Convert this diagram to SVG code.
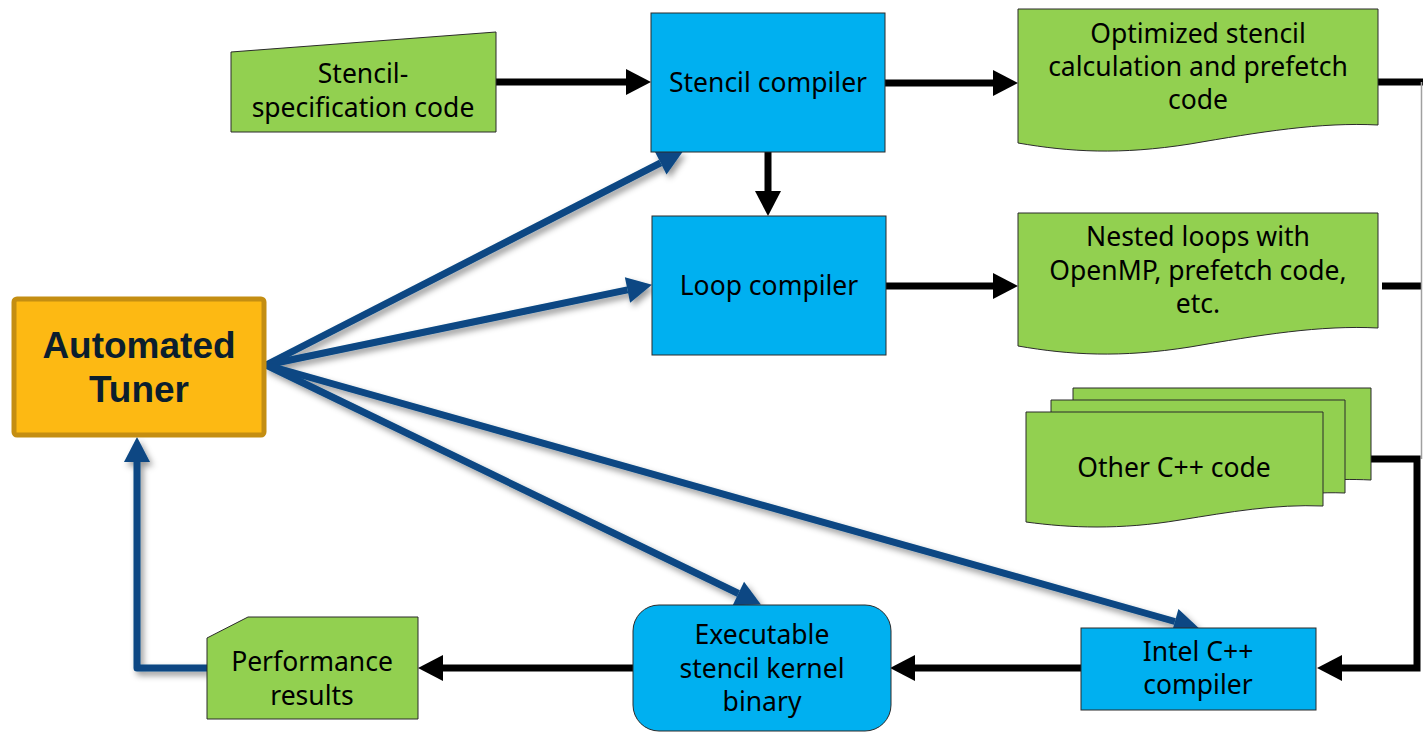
<svg xmlns="http://www.w3.org/2000/svg" width="1423" height="732" viewBox="0 0 1423 732">
  <style>
    .txt { font-family: "Noto Sans", "Open Sans", sans-serif; font-size: 26.5px; fill: #000; text-anchor: middle; }
    .proc { fill: #00B0F0; stroke: #2b2b2b; stroke-width: 1; }
    .doc { fill: #92D050; stroke: #2b2b2b; stroke-width: 1; }
    .flow { fill: none; stroke: #000; stroke-width: 7; }
    .tune { fill: none; stroke: #084783; stroke-width: 7; stroke-linejoin: round; }
    .title { font-family: "Liberation Sans", Arial, sans-serif; font-size: 37px; font-weight: bold; fill: #0B1E2E; text-anchor: middle; }
  </style>
  <defs>
    <marker id="blackHead" markerUnits="userSpaceOnUse" markerWidth="26" markerHeight="26" refX="0" refY="12" orient="auto" overflow="visible">
      <path d="M0,-1 L25,12 L0,25 Z" fill="#000"/>
    </marker>
    <marker id="blueHead" markerUnits="userSpaceOnUse" markerWidth="26" markerHeight="26" refX="0" refY="12" orient="auto" overflow="visible">
      <path d="M0,-1 L25,12 L0,25 Z" fill="#084783"/>
    </marker>
    <filter id="shadow" x="-10%" y="-10%" width="120%" height="130%">
      <feDropShadow dx="3" dy="4" stdDeviation="3" flood-color="#000" flood-opacity="0.4"/>
    </filter>
  </defs>

  <g id="connectors">
    <!-- black data-flow lines -->
    <line class="flow" x1="496" y1="82" x2="626" y2="82" marker-end="url(#blackHead)"/>
    <line class="flow" x1="885" y1="83" x2="993" y2="83" marker-end="url(#blackHead)"/>
    <line class="flow" x1="768" y1="152" x2="768" y2="191" marker-end="url(#blackHead)"/>
    <line class="flow" x1="886" y1="286" x2="993" y2="286" marker-end="url(#blackHead)"/>
    <line class="flow" x1="1378" y1="82" x2="1423" y2="82"/>
    <line class="flow" x1="1382" y1="286" x2="1421" y2="286"/>
    <line x1="1421.5" y1="82" x2="1421.5" y2="459" stroke="#a0a0a0" stroke-width="1.5"/>
    <polyline class="flow" points="1371,459 1417,459 1417,668 1342,668" marker-end="url(#blackHead)"/>
    <line class="flow" x1="1081" y1="668" x2="915" y2="668" marker-end="url(#blackHead)"/>
    <line class="flow" x1="633" y1="668" x2="443" y2="668" marker-end="url(#blackHead)"/>

    <!-- tuner control lines -->
    <g filter="url(#shadow)">
      <line class="tune" x1="266" y1="365" x2="660.6" y2="162.9" marker-end="url(#blueHead)"/>
      <line class="tune" x1="266" y1="365" x2="627.5" y2="289.9" marker-end="url(#blueHead)"/>
      <line class="tune" x1="266" y1="365" x2="738.4" y2="593.5" marker-end="url(#blueHead)"/>
      <line class="tune" x1="266" y1="365" x2="1174.9" y2="621.5" marker-end="url(#blueHead)"/>
      <polyline class="tune" points="208,668 137,668 137,462" marker-end="url(#blueHead)"/>
    </g>
  </g>

  <g id="stencil-spec">
    <polygon class="doc" points="231,52 496,32 496,132 231,132"/>
    <text class="txt" x="363" y="83">Stencil-</text>
    <text class="txt" x="363" y="117">specification code</text>
  </g>

  <g id="stencil-compiler">
    <rect class="proc" x="651" y="13" width="234" height="139"/>
    <text class="txt" x="768" y="92">Stencil compiler</text>
  </g>

  <g id="loop-compiler">
    <rect class="proc" x="652" y="216" width="234" height="139"/>
    <text class="txt" x="769" y="295">Loop compiler</text>
  </g>

  <g id="optimized-code">
    <path class="doc" d="M1018,9 H1378 V125 C1320,122 1260,132 1190,144 C1120,155 1070,152 1018,143 Z"/>
    <text class="txt" x="1198" y="43">Optimized stencil</text>
    <text class="txt" x="1198" y="76">calculation and prefetch</text>
    <text class="txt" x="1198" y="109">code</text>
  </g>

  <g id="nested-loops">
    <path class="doc" d="M1018,213 H1378 V328 C1320,325 1260,335 1190,347 C1120,358 1070,355 1018,346 Z"/>
    <text class="txt" x="1198" y="246">Nested loops with</text>
    <text class="txt" x="1198" y="280">OpenMP, prefetch code,</text>
    <text class="txt" x="1198" y="313">etc.</text>
  </g>

  <g id="other-cpp">
    <path class="doc" d="M1073,388 H1371 V480 C1330,478 1300,482 1290,484 L1290,484 H1073 Z"/>
    <path class="doc" d="M1051,400 H1345 V493 C1320,492 1300,494 1280,497 L1280,497 H1051 Z"/>
    <path class="doc" d="M1026,412 H1323 V506 C1275,504 1230,512 1180,520 C1120,530 1070,528 1026,522 Z"/>
    <text class="txt" x="1174" y="477">Other C++ code</text>
  </g>

  <g id="automated-tuner">
    <rect x="14" y="299" width="250" height="136" rx="3" fill="#FDB913" stroke="#C48E12" stroke-width="5"/>
    <text class="title" x="139" y="358">Automated</text>
    <text class="title" x="139" y="402">Tuner</text>
  </g>

  <g id="executable">
    <rect class="proc" x="633" y="605" width="258" height="126" rx="26"/>
    <text class="txt" x="762" y="644">Executable</text>
    <text class="txt" x="762" y="678">stencil kernel</text>
    <text class="txt" x="762" y="711">binary</text>
  </g>

  <g id="intel-compiler">
    <rect class="proc" x="1081" y="628" width="235" height="82"/>
    <text class="txt" x="1198" y="661">Intel C++</text>
    <text class="txt" x="1198" y="694">compiler</text>
  </g>

  <g id="performance-results">
    <polygon class="doc" points="207,638 248,617 418,617 418,719 207,719"/>
    <text class="txt" x="312" y="671">Performance</text>
    <text class="txt" x="312" y="705">results</text>
  </g>
</svg>
